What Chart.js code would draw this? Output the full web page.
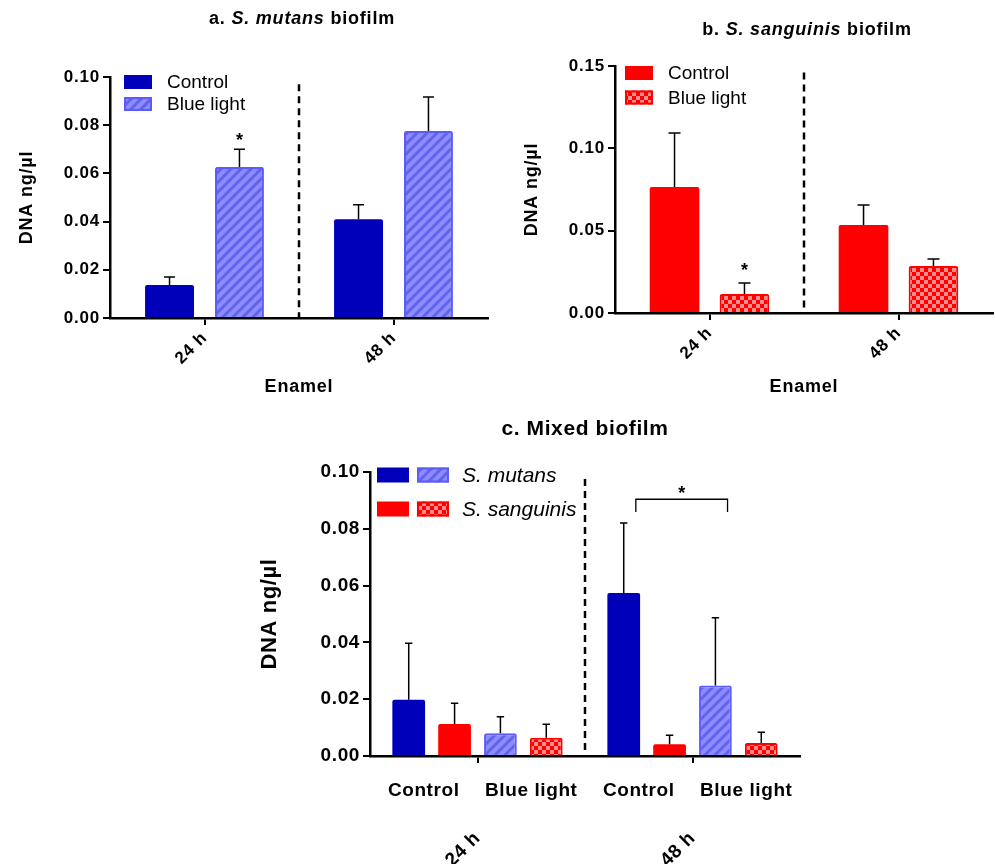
<!DOCTYPE html>
<html><head><meta charset="utf-8">
<script src="https://cdn.jsdelivr.net/npm/chart.js@4"></script>
<style>
html,body{margin:0;padding:0;background:#fff;}
body{width:995px;height:864px;position:relative;overflow:hidden;}
.p{position:absolute;}
</style></head><body>
<div class="p" style="left:0;top:0;width:500px;height:410px"><canvas id="ca"></canvas></div>
<div class="p" style="left:500px;top:0;width:495px;height:410px"><canvas id="cb"></canvas></div>
<div class="p" style="left:250px;top:410px;width:560px;height:454px"><canvas id="cc"></canvas></div>
<script>
// ---------- data ----------
const timeGroups = ['24 h', '48 h'];
const treatmentLabels = ['Control', 'Blue light', 'Control', 'Blue light'];
const seriesNames = ['Control', 'Blue light'];
const speciesNames = ['S. mutans', 'S. sanguinis'];

// a. S. mutans biofilm
const mutansControlMean = [0.0137, 0.0410];
const mutansControlSD   = [0.0033, 0.0060];
const mutansBlueMean    = [0.0627, 0.0776];
const mutansBlueSD      = [0.0073, 0.0141];

// b. S. sanguinis biofilm
const sangControlMean = [0.0765, 0.0534];
const sangControlSD   = [0.0328, 0.0122];
const sangBlueMean    = [0.0115, 0.0285];
const sangBlueSD      = [0.0067, 0.0043];

// c. Mixed biofilm
const mixMutControlMean  = [0.0198, 0.0574];
const mixMutControlSD    = [0.0199, 0.0246];
const mixSangControlMean = [0.0113, 0.0041];
const mixSangControlSD   = [0.0073, 0.0032];
const mixMutBlueMean     = [0.0080, 0.0248];
const mixMutBlueSD       = [0.0058, 0.0239];
const mixSangBlueMean    = [0.0064, 0.0046];
const mixSangBlueSD      = [0.0048, 0.0038];

const yTicksA = [0, 0.02, 0.04, 0.06, 0.08, 0.10];
const yTicksB = [0, 0.05, 0.10, 0.15];
const yTicksC = [0, 0.02, 0.04, 0.06, 0.08, 0.10];

// ---------- styles ----------
const FONT = '"Liberation Sans", Arial, Helvetica, sans-serif';
const DARK_BLUE = '#0000bb';
const RED = '#ff0000';

function hatchPattern() {
  const n = 10;
  const c = document.createElement('canvas'); c.width = n; c.height = n;
  const g = c.getContext('2d');
  g.fillStyle = '#8c8cff'; g.fillRect(0, 0, n, n);
  g.strokeStyle = '#6262ec'; g.lineWidth = 3;
  g.beginPath();
  g.moveTo(-2, n + 2); g.lineTo(n + 2, -2);
  g.moveTo(-2, 2); g.lineTo(2, -2);
  g.moveTo(n - 2, n + 2); g.lineTo(n + 2, n - 2);
  g.stroke();
  return g.createPattern(c, 'repeat');
}
function checkerPattern() {
  const c = document.createElement('canvas'); c.width = 8; c.height = 8;
  const g = c.getContext('2d');
  g.fillStyle = RED; g.fillRect(0, 0, 8, 8);
  g.fillStyle = '#ff8c8c'; g.fillRect(0, 0, 4, 4); g.fillRect(4, 4, 4, 4);
  return g.createPattern(c, 'repeat');
}
const HATCH = hatchPattern();
const CHECK = checkerPattern();

const styleMutCtrl = {backgroundColor: DARK_BLUE, borderColor: DARK_BLUE, borderWidth: 0, borderRadius: 2};
const styleMutBlue = {backgroundColor: HATCH, borderColor: '#5a5aff', borderWidth: 2, borderRadius: 2};
const styleSangCtrl = {backgroundColor: RED, borderColor: RED, borderWidth: 0, borderRadius: 2};
const styleSangBlue = {backgroundColor: CHECK, borderColor: RED, borderWidth: 2, borderRadius: 2};

// ---------- letter spacing (wide bold labels, as in the figure) ----------
const spacingPlugin = {
  id: 'spacing',
  beforeUpdate(chart, a, o) { chart.ctx.letterSpacing = o.value; },
  beforeLayout(chart, a, o) { chart.ctx.letterSpacing = o.value; },
  beforeDraw(chart, a, o) { chart.ctx.letterSpacing = o.value; }
};

// ---------- decoration plugin ----------
const decor = {
  id: 'decor',
  afterDatasetsDraw(chart, args, o) {
    const ctx = chart.ctx, A = chart.chartArea;
    const xs = chart.scales.x, ys = chart.scales.y;
    ctx.save();
    // dashed separator between time groups
    if (o.dashTop != null) {
      const xm = (xs.getPixelForValue(0) + xs.getPixelForValue(1)) / 2;
      ctx.setLineDash([7, 5]); ctx.lineWidth = 2.5; ctx.strokeStyle = '#000';
      ctx.beginPath(); ctx.moveTo(xm, ys.getPixelForValue(o.dashTop)); ctx.lineTo(xm, A.bottom); ctx.stroke();
      ctx.setLineDash([]);
    }
    // error bars (upper only)
    ctx.lineWidth = 1.5; ctx.strokeStyle = '#000';
    chart.data.datasets.forEach((ds, di) => {
      chart.getDatasetMeta(di).data.forEach((el, i) => {
        const yTop = ys.getPixelForValue(ds.data[i] + ds.errors[i]);
        ctx.beginPath();
        ctx.moveTo(el.x, el.y); ctx.lineTo(el.x, yTop);
        ctx.moveTo(el.x - o.cap, yTop); ctx.lineTo(el.x + o.cap, yTop);
        ctx.stroke();
      });
    });
    // significance stars
    ctx.letterSpacing = '0px';
    ctx.fillStyle = '#000'; ctx.font = 'bold 18px ' + FONT;
    ctx.textAlign = 'center'; ctx.textBaseline = 'middle';
    (o.stars || []).forEach(s => {
      const ds = chart.data.datasets[s.dataset];
      const el = chart.getDatasetMeta(s.dataset).data[s.index];
      const y = ys.getPixelForValue(ds.data[s.index] + ds.errors[s.index]);
      ctx.fillText('*', el.x, y - s.gap);
    });
    // bracket
    if (o.bracket) {
      const b = o.bracket;
      const e1 = chart.getDatasetMeta(b.from[0]).data[b.from[1]];
      const e2 = chart.getDatasetMeta(b.to[0]).data[b.to[1]];
      const x1 = e1.x + e1.width * b.shift, x2 = e2.x + e2.width * b.shift;
      const yT = ys.getPixelForValue(b.value), yB = ys.getPixelForValue(b.value - b.drop);
      ctx.lineWidth = 1.3;
      ctx.beginPath(); ctx.moveTo(x1, yB); ctx.lineTo(x1, yT); ctx.lineTo(x2, yT); ctx.lineTo(x2, yB); ctx.stroke();
      ctx.fillText('*', (x1 + x2) / 2, yT - b.gap);
    }
    // legend
    if (o.legend) {
      const L = o.legend;
      L.rows.forEach((r, ri) => {
        const cy = A.top + L.y0 + ri * L.dy;
        r.sets.forEach((di, k) => {
          const ds = chart.data.datasets[di];
          const x = A.left + L.x0 + k * L.step;
          ctx.fillStyle = ds.backgroundColor;
          ctx.fillRect(x, cy - L.h / 2, L.w, L.h);
          if (ds.borderWidth) {
            ctx.strokeStyle = ds.borderColor; ctx.lineWidth = 2;
            ctx.strokeRect(x + 1, cy - L.h / 2 + 1, L.w - 2, L.h - 2);
          }
        });
        ctx.fillStyle = '#000'; ctx.textAlign = 'left'; ctx.textBaseline = 'middle';
        ctx.font = (r.italic ? 'italic ' : '') + L.size + 'px ' + FONT;
        ctx.fillText(r.text, A.left + L.textX, cy + 1);
      });
    }
    // title with mixed styles
    if (o.title) {
      ctx.letterSpacing = o.titleSpacing;
      ctx.textBaseline = 'middle'; ctx.textAlign = 'left'; ctx.fillStyle = '#000';
      const f = ' ' + o.titleSize + 'px ' + FONT;
      let total = 0;
      const parts = o.title.map(p => { ctx.font = p[1] + f; const w = ctx.measureText(p[0]).width; total += w; return [p[0], p[1], w]; });
      let x = o.titleX - total / 2;
      parts.forEach(p => { ctx.font = p[1] + f; ctx.fillText(p[0], x, o.titleY); x += p[2]; });
    }
    ctx.restore();
  }
};

// ---------- helpers ----------
function bold(size) { return {family: FONT, size: size, weight: 'bold'}; }

function yScale(ticksArr, width, titlePad, tickSize, titleSize) {
  return {
    min: ticksArr[0], max: ticksArr[ticksArr.length - 1],
    afterBuildTicks: s => { s.ticks = ticksArr.map(v => ({value: v})); },
    afterFit: s => { s.width = width; },
    border: {display: true, color: '#000', width: 2.5},
    grid: {drawOnChartArea: false, color: '#000', lineWidth: 2, tickLength: 7},
    ticks: {color: '#000', font: bold(tickSize), padding: 3, callback: v => Number(v).toFixed(2)},
    title: {display: true, text: 'DNA ng/µl', color: '#000', font: bold(titleSize), padding: {top: titlePad, bottom: 0}}
  };
}
function xScaleAB(height) {
  return {
    type: 'category', offset: true,
    afterFit: s => { s.height = height; },
    border: {display: true, color: '#000', width: 2.5},
    grid: {offset: false, drawOnChartArea: false, color: '#000', lineWidth: 2, tickLength: 7},
    ticks: {color: '#000', font: bold(17), minRotation: 45, maxRotation: 45, padding: 3},
    title: {display: true, text: 'Enamel', color: '#000', font: bold(18), padding: {top: 0, bottom: 12}}
  };
}
function baseOptions(padding, scales, decorOpts, spacing) {
  return {
    responsive: true, maintainAspectRatio: false, animation: false,
    layout: {padding: padding},
    plugins: {legend: {display: false}, tooltip: {enabled: false}, title: {display: false},
      decor: decorOpts, spacing: {value: spacing}},
    scales: scales
  };
}

// ---------- chart a ----------
new Chart(document.getElementById('ca'), {
  type: 'bar',
  data: {
    labels: timeGroups,
    datasets: [
      Object.assign({label: seriesNames[0], data: mutansControlMean, errors: mutansControlSD, categoryPercentage: 0.74, barPercentage: 0.7}, styleMutCtrl),
      Object.assign({label: seriesNames[1], data: mutansBlueMean, errors: mutansBlueSD, categoryPercentage: 0.74, barPercentage: 0.7}, styleMutBlue)
    ]
  },
  options: baseOptions({top: 77, right: 12, left: 0, bottom: 0},
    {x: xScaleAB(92), y: yScale(yTicksA, 110, 16, 17, 18)},
    {
      title: [['a. ', 'bold'], ['S. mutans', 'italic bold'], [' biofilm', 'bold']], titleX: 302, titleY: 19,
      titleSize: 18, titleSpacing: '0.8px',
      dashTop: 0.097, cap: 5.5,
      stars: [{dataset: 1, index: 0, gap: 8}],
      legend: {x0: 14, w: 28, h: 14, step: 0, y0: 5, dy: 22, textX: 57, size: 19,
        rows: [{sets: [0], text: seriesNames[0]}, {sets: [1], text: seriesNames[1]}]}
    }, '0.8px'),
  plugins: [spacingPlugin, decor]
});

// ---------- chart b ----------
new Chart(document.getElementById('cb'), {
  type: 'bar',
  data: {
    labels: timeGroups,
    datasets: [
      Object.assign({label: seriesNames[0], data: sangControlMean, errors: sangControlSD, categoryPercentage: 0.74, barPercentage: 0.71}, styleSangCtrl),
      Object.assign({label: seriesNames[1], data: sangBlueMean, errors: sangBlueSD, categoryPercentage: 0.74, barPercentage: 0.71}, styleSangBlue)
    ]
  },
  options: baseOptions({top: 66, right: 2, left: 0, bottom: 0},
    {x: xScaleAB(97), y: yScale(yTicksB, 115, 21, 17, 18)},
    {
      title: [['b. ', 'bold'], ['S. sanguinis', 'italic bold'], [' biofilm', 'bold']], titleX: 307, titleY: 30,
      titleSize: 18, titleSpacing: '0.8px',
      dashTop: 0.146, cap: 6,
      stars: [{dataset: 1, index: 0, gap: 12}],
      legend: {x0: 10, w: 28, h: 14, step: 0, y0: 7, dy: 24.5, textX: 53, size: 19,
        rows: [{sets: [0], text: seriesNames[0]}, {sets: [1], text: seriesNames[1]}]}
    }, '0.8px'),
  plugins: [spacingPlugin, decor]
});

// ---------- chart c ----------
function mixSet(label, data, errors, style) {
  return Object.assign({label: label, data: data, errors: errors, categoryPercentage: 0.853, barPercentage: 0.714, xAxisID: 'x', yAxisID: 'y'}, style);
}
new Chart(document.getElementById('cc'), {
  type: 'bar',
  data: {
    labels: timeGroups,
    datasets: [
      mixSet(speciesNames[0] + ' Control', mixMutControlMean, mixMutControlSD, styleMutCtrl),
      mixSet(speciesNames[1] + ' Control', mixSangControlMean, mixSangControlSD, styleSangCtrl),
      mixSet(speciesNames[0] + ' Blue light', mixMutBlueMean, mixMutBlueSD, styleMutBlue),
      mixSet(speciesNames[1] + ' Blue light', mixSangBlueMean, mixSangBlueSD, styleSangBlue)
    ]
  },
  options: baseOptions({top: 62, right: 10, left: 0, bottom: 0},
    {
      x: {
        type: 'category', offset: true, position: 'bottom', weight: 2,
        afterFit: s => { s.height = 52; },
        border: {display: false},
        grid: {display: false, drawTicks: false},
        ticks: {color: '#000', font: bold(19), minRotation: 45, maxRotation: 45, padding: 15}
      },
      xSub: {
        type: 'category', labels: treatmentLabels, offset: true, position: 'bottom', weight: 0,
        afterFit: s => { s.height = 56; },
        border: {display: true, color: '#000', width: 2.5},
        grid: {offset: true, drawOnChartArea: false, lineWidth: 2, tickLength: 7,
          color: c => (c.index === 1 || c.index === 3) ? '#000' : 'rgba(0,0,0,0)'},
        ticks: {color: '#000', font: bold(19), maxRotation: 0, minRotation: 0, padding: 16, autoSkip: false}
      },
      y: yScale(yTicksC, 120, 7, 19, 22)
    },
    {
      title: [['c. Mixed biofilm', 'bold']], titleX: 335, titleY: 19,
      titleSize: 21, titleSpacing: '0.6px',
      dashTop: 0.0975, cap: 3.7,
      bracket: {from: [0, 1], to: [2, 1], shift: 0.37, value: 0.0904, drop: 0.0045, gap: 5},
      legend: {x0: 7, w: 32, h: 15, step: 40, y0: 3, dy: 34, textX: 92, size: 21,
        rows: [{sets: [0, 2], text: speciesNames[0], italic: true}, {sets: [1, 3], text: speciesNames[1], italic: true}]}
    }, '0.6px'),
  plugins: [spacingPlugin, decor]
});
</script>
</body></html>
